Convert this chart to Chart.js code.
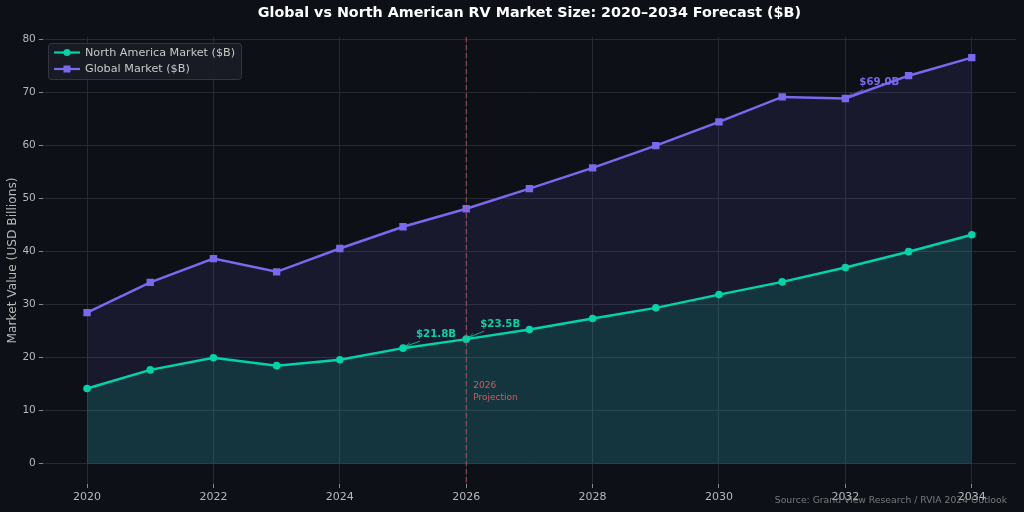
<!DOCTYPE html>
<html><head><meta charset="utf-8">
<script src="https://cdn.jsdelivr.net/npm/chart.js@4"></script>
<style>html,body{margin:0;padding:0;background:#0d1017;}#wrap{width:1024px;height:512px;}</style>
</head><body><div id="wrap"><canvas id="c" width="1024" height="512"></canvas></div>
<script>
const years = [2020,2021,2022,2023,2024,2025,2026,2027,2028,2029,2030,2031,2032,2033,2034];
const northAmerica = [14.2,17.7,20.0,18.5,19.6,21.8,23.5,25.3,27.4,29.4,31.9,34.3,37.0,40.0,43.2];
const globalMarket = [28.5,34.2,38.7,36.2,40.6,44.7,48.1,51.9,55.8,60.0,64.5,69.2,68.9,73.2,76.6];
const yTicks = [0,10,20,30,40,50,60,70,80];
const xTicks = [2020,2022,2024,2026,2028,2030,2032,2034];
const seriesNames = ['North America Market ($B)','Global Market ($B)'];
const titleText = 'Global vs North American RV Market Size: 2020\u20132034 Forecast ($B)';
const yTitle = 'Market Value (USD Billions)';
const sourceText = 'Source: Grand View Research / RVIA 2024 Outlook';
const projectionYear = 2026;
const projectionLabel = ['2026','Projection'];
const callouts = [
  {series:0, year:2025, text:'$21.8B', dx:13, dy:-11},
  {series:0, year:2026, text:'$23.5B', dx:14, dy:-12},
  {series:1, year:2032, text:'$69.0B', dx:14, dy:-13}
];

const TEAL = '#00d4aa', PURPLE = '#7b68ee', BG = '#0d1017';
const FONT = '"DejaVu Sans", sans-serif';

const overlay = {
  id:'overlay',
  beforeDraw(chart){
    const c = chart.ctx; c.save(); c.fillStyle = BG; c.fillRect(0,0,chart.width,chart.height); c.restore();
  },
  afterDatasetsDraw(chart){
    const c = chart.ctx, xs = chart.scales.x, ys = chart.scales.y, a = chart.chartArea;
    c.save();
    const px = xs.getPixelForValue(projectionYear);
    c.strokeStyle = 'rgba(224,85,85,0.75)'; c.lineWidth = 1; c.setLineDash([5,3]);
    c.beginPath(); c.moveTo(px, a.top); c.lineTo(px, a.bottom); c.stroke(); c.setLineDash([]);
    c.fillStyle = 'rgba(235,100,100,0.85)'; c.font = '9px '+FONT; c.textAlign='left'; c.textBaseline='alphabetic';
    c.fillText(projectionLabel[0], px+7, ys.getPixelForValue(14.3));
    c.fillText(projectionLabel[1], px+7, ys.getPixelForValue(12.0));
    c.font = 'bold 10.2px '+FONT;
    callouts.forEach(o=>{
      const data = o.series===0 ? northAmerica : globalMarket;
      const col = o.series===0 ? TEAL : PURPLE;
      const vx = xs.getPixelForValue(o.year), vy = ys.getPixelForValue(data[years.indexOf(o.year)]);
      const tx = vx + o.dx, ty = vy + o.dy;
      c.strokeStyle = col; c.fillStyle = col; c.lineWidth = 0.8;
      const sx = tx + 4, sy = ty + 4, ex = vx+3, ey = vy-2;
      c.beginPath(); c.moveTo(sx,sy); c.lineTo(ex,ey); c.stroke();
      const ang = Math.atan2(ey-sy, ex-sx);
      c.beginPath(); c.moveTo(ex,ey);
      c.lineTo(ex-5*Math.cos(ang-0.4), ey-5*Math.sin(ang-0.4));
      c.moveTo(ex,ey);
      c.lineTo(ex-5*Math.cos(ang+0.4), ey-5*Math.sin(ang+0.4)); c.stroke();
      c.textAlign='left'; c.textBaseline='alphabetic';
      c.fillText(o.text, tx, ty);
    });
    c.restore();
  },
  afterDraw(chart){
    const c = chart.ctx, a = chart.chartArea;
    c.save();
    c.fillStyle = '#ffffff'; c.font = 'bold 14.3px '+FONT; c.textAlign='center'; c.textBaseline='middle';
    c.fillText(titleText, (a.left+a.right)/2, 13.5);
    c.save(); c.translate(13, (a.top+a.bottom)/2); c.rotate(-Math.PI/2);
    c.fillStyle = '#b8b8b8'; c.font = '12.2px '+FONT; c.textAlign='center'; c.textBaseline='middle';
    c.fillText(yTitle, 0, 0); c.restore();
    const lx = 48, ly = 43, lw = 193, lh = 36;
    c.fillStyle = 'rgba(26,29,37,0.9)'; c.strokeStyle = '#33363e'; c.lineWidth = 1;
    c.beginPath(); c.roundRect(lx+0.5, ly+0.5, lw, lh, 3); c.fill(); c.stroke();
    const rows = [ly+9.5, ly+26];
    [TEAL, PURPLE].forEach((col,i)=>{
      const y = rows[i];
      c.strokeStyle = col; c.lineWidth = 2.2; c.beginPath(); c.moveTo(lx+6,y); c.lineTo(lx+32,y); c.stroke();
      c.fillStyle = col;
      if(i===0){ c.beginPath(); c.arc(lx+19,y,3.5,0,Math.PI*2); c.fill(); }
      else { c.fillRect(lx+15.5,y-3.5,7,7); }
      c.fillStyle = '#c8c8c8'; c.font = '11.2px '+FONT; c.textAlign='left'; c.textBaseline='middle';
      c.fillText(seriesNames[i], lx+37, y+0.5);
    });
    c.fillStyle = 'rgba(140,140,140,0.85)'; c.font = '9.25px '+FONT; c.textAlign='right'; c.textBaseline='alphabetic';
    c.fillText(sourceText, 1007, 503);
    c.restore();
  }
};

new Chart(document.getElementById('c'), {
  type:'line',
  data:{
    datasets:[
      {label:seriesNames[0], data:years.map((y,i)=>({x:y,y:northAmerica[i]})), borderColor:TEAL, backgroundColor:'rgba(0,212,170,0.15)',
       fill:'origin', borderWidth:2.5, pointRadius:3.8, pointBackgroundColor:TEAL, pointBorderWidth:0, pointStyle:'circle', tension:0, order:1},
      {label:seriesNames[1], data:years.map((y,i)=>({x:y,y:globalMarket[i]})), borderColor:PURPLE, backgroundColor:'rgba(123,104,238,0.10)',
       fill:'origin', borderWidth:2.5, pointRadius:5.2, pointBackgroundColor:PURPLE, pointBorderWidth:0, pointStyle:'rect', tension:0, order:2}
    ]
  },
  options:{
    responsive:false, animation:false, devicePixelRatio:1,
    layout:{padding:{top:37, right:8, left:0, bottom:0}},
    plugins:{legend:{display:false}, title:{display:false}, tooltip:{enabled:false}},
    scales:{
      x:{type:'linear', min:2019.3, max:2034.7,
         afterBuildTicks(s){ s.ticks = xTicks.map(v=>({value:v})); },
         afterFit(s){ s.height = 28; },
         grid:{color:'#262a33', lineWidth:1, tickLength:4, tickColor:'#888', drawTicks:true},
         border:{display:false},
         ticks:{color:'#b8b8b8', font:{family:FONT, size:11}, padding:3, maxRotation:0, callback:v=>String(v)}},
      y:{type:'linear', min:-3.83, max:80.5,
         afterBuildTicks(s){ s.ticks = yTicks.map(v=>({value:v})); },
         afterFit(s){ s.width = 42.8; },
         grid:{color:'#262a33', lineWidth:1, tickLength:4, tickColor:'#888', drawTicks:true},
         border:{display:false},
         ticks:{color:'#b8b8b8', font:{family:FONT, size:10.5}, padding:3, callback:v=>String(v)}}
    }
  },
  plugins:[overlay]
});
</script></body></html>
